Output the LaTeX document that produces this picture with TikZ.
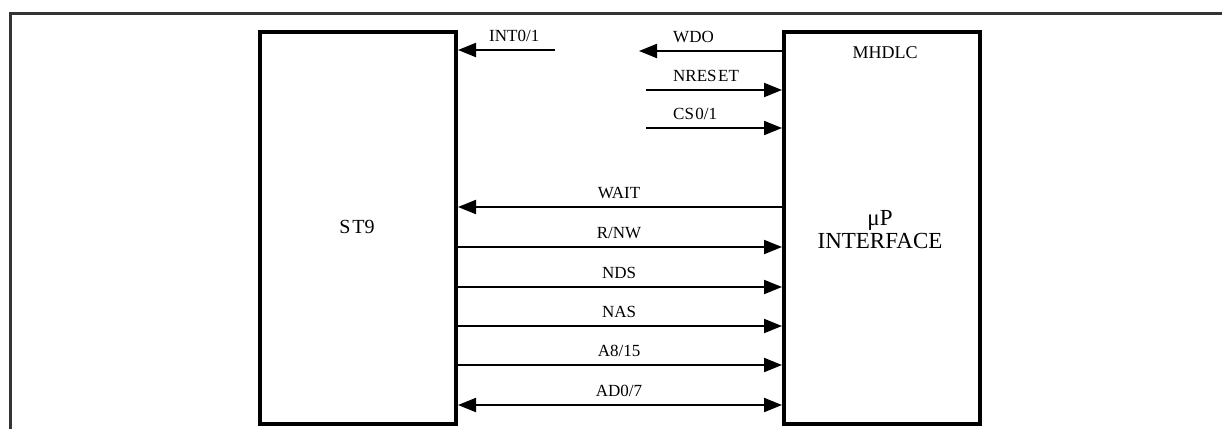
\documentclass[tikz,border=0pt]{standalone}
\usepackage{fontspec}
\setmainfont{Liberation Serif}
\usetikzlibrary{arrows.meta}
\begin{document}
\begin{tikzpicture}[x=1pt,y=-1pt,
  blk/.style={draw, line width=4pt, minimum width=196pt, minimum height=392pt, inner sep=0pt},
  sig/.style={line width=2pt},
  tipend/.style={-{Triangle[length=18pt,width=14pt]}},
  tipboth/.style={{Triangle[length=18pt,width=14pt]}-{Triangle[length=18pt,width=14pt]}},
  lab/.style={font=\fontsize{17}{19}\selectfont, inner sep=0pt},
  frame/.style={line width=3pt, black!80}]
\useasboundingbox (0,0) rectangle (1222,429);
% outer frame
\coordinate (fr1) at (1222,13);
\coordinate (fr2) at (10,13);
\coordinate (fr3) at (10,429);
\draw[frame] (fr1) -- (fr2) -- (fr3);
% blocks
\node[blk] (st9) at (358,228) {};
\node[lab, font=\fontsize{20}{22}\selectfont, anchor=base] (st9t) at (357,233.5) {S\kern2pt T9};
\node[blk] (mh) at (882,228) {};
\node[inner sep=0pt, font=\fontsize{18}{20}\selectfont] (mht) at (885,53) {MHDLC};
\node[inner sep=0pt, anchor=base, font=\fontsize{23}{25}\selectfont] (mup) at (880,225) {μP};
\node[inner sep=0pt, anchor=base, font=\fontsize{23}{25}\selectfont] (intf) at (880,248) {INTERFACE};
% upper signals
\coordinate (int) at (555,50);
\draw[sig,tipend] (int) -- (int -| st9.east);
\node[lab, anchor=base west] (lint) at (489,41) {INT0/1};
\coordinate (wdo) at (639,51);
\draw[sig,tipend] (wdo -| mh.west) -- (wdo);
\node[lab, anchor=base west] (lwdo) at (673,42) {WDO};
\coordinate (nrs) at (646,90);
\draw[sig,tipend] (nrs) -- (nrs -| mh.west);
\node[lab, anchor=base west] (lnrs) at (673,81) {NRES\kern1.5pt ET};
\coordinate (cs) at (646,128);
\draw[sig,tipend] (cs) -- (cs -| mh.west);
\node[lab, anchor=base west] (lcs) at (673,119) {CS\kern1.5pt 0/1};
% lower signals
\coordinate (wait) at (619,207);
\draw[sig,tipend] (wait -| mh.west) -- (wait -| st9.east);
\node[lab, anchor=base] (lwait) at (619,198) {WAIT};
\coordinate (rnw) at (619,247);
\draw[sig,tipend] (rnw -| st9.east) -- (rnw -| mh.west);
\node[lab, anchor=base] (lrnw) at (619,238) {R/NW};
\coordinate (nds) at (619,287);
\draw[sig,tipend] (nds -| st9.east) -- (nds -| mh.west);
\node[lab, anchor=base] (lnds) at (619,278) {NDS};
\coordinate (nas) at (619,326);
\draw[sig,tipend] (nas -| st9.east) -- (nas -| mh.west);
\node[lab, anchor=base] (lnas) at (619,317) {NAS};
\coordinate (a815) at (619,365);
\draw[sig,tipend] (a815 -| st9.east) -- (a815 -| mh.west);
\node[lab, anchor=base] (la815) at (619,356) {A8/15};
\coordinate (ad07) at (619,405);
\draw[sig,tipboth] (ad07 -| st9.east) -- (ad07 -| mh.west);
\node[lab, anchor=base] (lad07) at (619,396) {AD0/7};
\end{tikzpicture}
\end{document}
